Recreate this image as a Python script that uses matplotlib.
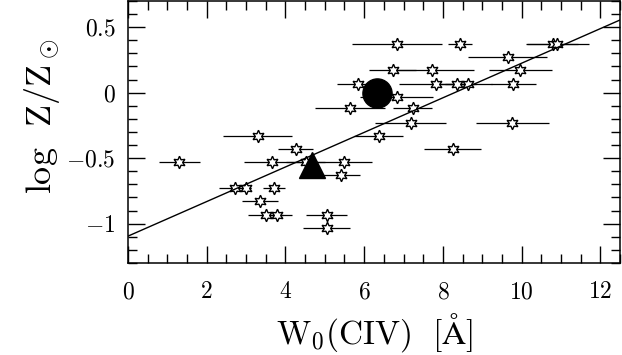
import matplotlib
matplotlib.use("Agg")
import matplotlib.pyplot as plt
from matplotlib.ticker import MultipleLocator, FuncFormatter

# absorber measurements: W0(CIV), error on W0, log Z/Zsun
w0 = [6.83, 8.43, 10.79, 10.90,
      9.65,
      6.72, 7.73, 9.96,
      5.85, 7.83, 8.35, 8.65, 9.79,
      6.83,
      5.64, 7.23,
      7.18, 9.76,
      3.29, 6.37,
      8.25, 4.26,
      1.30, 3.67, 4.51, 5.49,
      5.41,
      2.72, 3.00, 3.72,
      3.35,
      3.50, 3.78, 5.05,
      5.05]
w0_err = [1.15, 0.30, 0.65, 0.80,
          1.00,
          0.60, 1.05, 0.80,
          0.55, 0.95, 0.50, 0.60, 0.57,
          0.93,
          0.90, 0.50,
          0.90, 0.93,
          0.88, 0.62,
          0.72, 0.44,
          0.52, 0.72, 0.50, 0.72,
          0.48,
          0.40, 0.13, 0.28,
          0.45,
          0.44, 0.38, 0.52,
          0.60]
logz = [0.37, 0.37, 0.37, 0.37,
        0.27,
        0.17, 0.17, 0.17,
        0.07, 0.07, 0.07, 0.07, 0.07,
        -0.03,
        -0.12, -0.12,
        -0.23, -0.23,
        -0.33, -0.33,
        -0.43, -0.43,
        -0.53, -0.53, -0.53, -0.53,
        -0.63,
        -0.73, -0.73, -0.73,
        -0.83,
        -0.93, -0.93, -0.93,
        -1.03]

# averaged points
circle_w0, circle_logz = [6.33], [0.0]
tri_w0, tri_logz = [4.68], [-0.555]

# linear fit
fit_x = [0.0, 12.5]
fit_intercept = -1.095
fit_slope = 0.132

plt.rcParams["font.family"] = "serif"
plt.rcParams["font.serif"] = ["cmr10", "DejaVu Serif"]
plt.rcParams["mathtext.fontset"] = "cm"
plt.rcParams["axes.formatter.use_mathtext"] = True

fig = plt.figure(figsize=(6.22, 3.55), dpi=100)
ax = fig.add_axes([0.2058, 0.2592, 0.7910, 0.7380])

ax.errorbar(w0, logz, xerr=w0_err, fmt="none", ecolor="black",
            elinewidth=0.9, capsize=0, zorder=2)
ax.plot(w0, logz, linestyle="none", marker=(6, 1, 0), markersize=9,
        markerfacecolor="white", markeredgecolor="black",
        markeredgewidth=1.0, zorder=3)

ax.plot(fit_x, [fit_intercept + fit_slope * v for v in fit_x],
        color="black", lw=1.0, zorder=4)

ax.plot(circle_w0, circle_logz, "o", color="black", markersize=21, zorder=5)
ax.plot(tri_w0, tri_logz, "^", color="black", markersize=19, zorder=5)

ax.set_xlim(0, 12.5)
ax.set_ylim(-1.3, 0.7)

ax.xaxis.set_major_locator(MultipleLocator(2))
ax.xaxis.set_minor_locator(MultipleLocator(0.5))
ax.yaxis.set_major_locator(MultipleLocator(0.5))
ax.yaxis.set_minor_locator(MultipleLocator(0.1))
fmt = FuncFormatter(lambda v, pos: "$%g$" % round(v, 2))
ax.xaxis.set_major_formatter(fmt)
ax.yaxis.set_major_formatter(fmt)

ax.tick_params(which="both", direction="in", top=True, right=True,
               labelsize=17, width=1.0)
ax.tick_params(which="major", length=12)
ax.tick_params(which="minor", length=6.5)
ax.tick_params(axis="x", which="major", pad=13)
ax.tick_params(axis="y", which="major", pad=9)
for s in ax.spines.values():
    s.set_linewidth(1.1)

ax.set_xlabel(r"$\mathrm{W_0(CIV)\ \ [\AA]}$", fontsize=24, labelpad=6)
ax.set_ylabel(r"$\mathrm{log\ \ Z/Z_\odot}$", fontsize=26)
ax.yaxis.set_label_coords(-0.135, 0.56)

plt.savefig("out.png", dpi=100)
plt.close()
